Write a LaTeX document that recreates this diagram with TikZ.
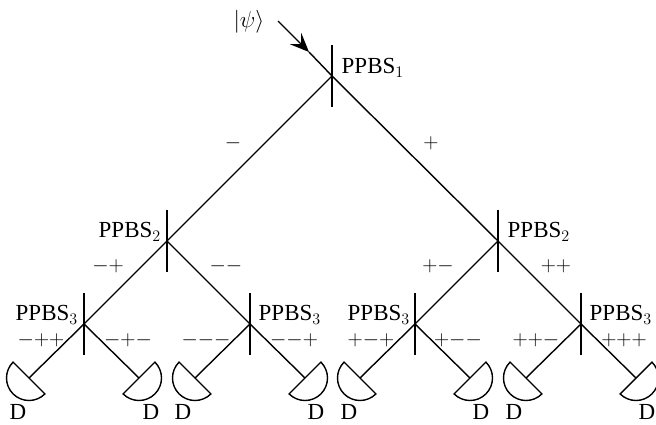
\documentclass[tikz,border=0pt]{standalone}
\usepackage{fix-cm}
\usepackage{fontspec}
\setmainfont{Liberation Serif}
\usetikzlibrary{arrows.meta}
\tikzset{
x=1pt, y=1pt, % one unit is one pixel of the picture
>={Stealth[length=19pt, width=16pt, inset=8pt]}, % the heavy tip on the input beam
every node/.style={inner sep=0pt, font=\fontsize{23}{27}\selectfont},
ppbslabel/.style={anchor=west}, % name of a beam splitter
signlabel/.style={anchor=center, font=\fontsize{21}{25}\selectfont}, % signs along the beams
}

\begin{document}
\begin{tikzpicture}[line width=1.4pt]
    \useasboundingbox (0,0) rectangle (656,424);

    \coordinate (p1) at (332,348);
    \coordinate (p2) at (167,183);
    \coordinate (p3) at (498,183);
    \coordinate (p4) at (84,100);
    \coordinate (p5) at (250,100);
    \coordinate (p6) at (415,100);
    \coordinate (p7) at (581,100);

    % the detectors, left looking and right looking
    \foreach \name/\xpos/\from in {d1/29/135, d2/139/225, d3/195/135, d4/305/225,
                                   d5/360/135, d6/470/225, d7/526/135, d8/636/225} {
        \coordinate (\name) at (\xpos,46);
        \draw (\name) ++(\from:22.5) arc[start angle=\from, delta angle=180, radius=22.5] -- cycle;
    }

    % beam splitters
    \foreach \name in {p1,p2,p3,p4,p5,p6,p7} {
        \draw (\name) ++(0,31) -- ++(0,-62);
    }

    % input beam
    \node (psi) at (249,402) {$|\psi\rangle$};
    \coordinate (in) at (278,403);
    \coordinate (tip) at (309,372);
    \draw[->] (in) -- (tip);
    \draw (tip) -- (p1);

    \draw
    (p1) -- (p2)
    (p1) -- (p3)
    (p2) -- (p4)
    (p2) -- (p5)
    (p3) -- (p6)
    (p3) -- (p7)
    (p4) -- (d1)
    (p4) -- (d2)
    (p5) -- (d3)
    (p5) -- (d4)
    (p6) -- (d5)
    (p6) -- (d6)
    (p7) -- (d7)
    (p7) -- (d8);

    \node[ppbslabel] (l1) at (341,356) {PPBS$_1$};
    \node[ppbslabel] (l2) at (98,192) {PPBS$_2$};
    \node[ppbslabel] (l3) at (507,192) {PPBS$_2$};
    \node[ppbslabel] (l4) at (15,109) {PPBS$_3$};
    \node[ppbslabel] (l5) at (258,109) {PPBS$_3$};
    \node[ppbslabel] (l6) at (347,109) {PPBS$_3$};
    \node[ppbslabel] (l7) at (589,109) {PPBS$_3$};

    \node[signlabel] (s1) at (233,281) {$-$};
    \node[signlabel] (s2) at (431,281) {$+$};
    \node[signlabel] (s3) at (108,158) {$-{+}$};
    \node[signlabel] (s4) at (226,158) {$-{-}$};
    \node[signlabel] (s5) at (438,158) {$+{-}$};
    \node[signlabel] (s6) at (556,158) {$+{+}$};
    \node[signlabel] (s7) at (41,84) {$-{+}{+}$};
    \node[signlabel] (s8) at (128,84) {$-{+}{-}$};
    \node[signlabel] (s9) at (206,84) {$-{-}{-}$};
    \node[signlabel] (s10) at (294,84) {$-{-}{+}$};
    \node[signlabel] (s11) at (371,84) {$+{-}{+}$};
    \node[signlabel] (s12) at (458,84) {$+{-}{-}$};
    \node[signlabel] (s13) at (536,84) {$+{+}{-}$};
    \node[signlabel] (s14) at (624,84) {$+{+}{+}$};

    \node (t1) at (18,12) {D};
    \node (t2) at (151,12) {D};
    \node (t3) at (183,12) {D};
    \node (t4) at (316,12) {D};
    \node (t5) at (349,12) {D};
    \node (t6) at (481,12) {D};
    \node (t7) at (514,12) {D};
    \node (t8) at (647,12) {D};
\end{tikzpicture}
\end{document}
